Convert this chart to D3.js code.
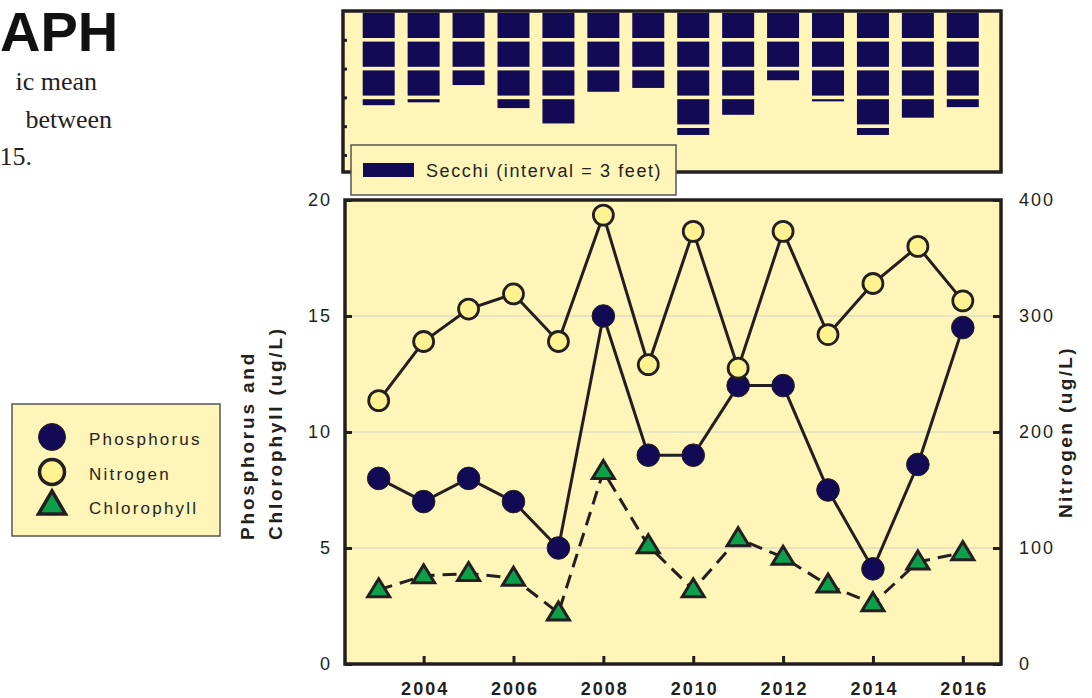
<!DOCTYPE html>
<html>
<head>
<meta charset="utf-8">
<script src="https://cdn.jsdelivr.net/npm/d3@7"></script>
<style>
  body { margin: 0; background: #fff; }
  svg { display: block; }
  text { font-family: "Liberation Sans", Arial, sans-serif; fill: #231f20; }
</style>
</head>
<body>
<svg id="chart" width="1092" height="698"></svg>
<script>
// valeurs
const years = [2003, 2004, 2005, 2006, 2007, 2008, 2009, 2010, 2011, 2012, 2013, 2014, 2015, 2016]
const phosphorus = [8.0, 7.0, 8.0, 7.0, 5.0, 15.0, 9.0, 9.0, 12.0, 12.0, 7.5, 4.1, 8.6, 14.5]
const nitrogen = [227, 278, 306, 319, 278, 387, 258, 373, 255, 373, 284, 328, 360, 313]
const chlorophyll = [3.2, 3.8, 3.9, 3.7, 2.2, 8.3, 5.1, 3.2, 5.4, 4.6, 3.4, 2.6, 4.4, 4.8]
const secchi = [10.0, 9.7, 7.9, 10.3, 11.9, 8.6, 8.2, 13.1, 11.0, 7.4, 9.6, 13.1, 11.3, 10.2]

const leftTicks = [0, 5, 10, 15, 20]
const rightTicks = [0, 100, 200, 300, 400]
const yearTicks = [2004, 2006, 2008, 2010, 2012, 2014, 2016]
const secchiTicks = [3, 6, 9, 12, 15]
const legendItems = ["Phosphorus", "Nitrogen", "Chlorophyll"]

const INK = "#231f20"
const PANEL = "#fff5b9"
const NAVY = "#120a55"
const PALE = "#fff391"
const GREEN = "#0da04b"

const svg = d3.select("#chart")

// texte de la page (coupé à gauche dans l'original)
svg.append("text").attr("x", 0).attr("y", 51)
  .style("font-family", "'Liberation Sans', Arial, sans-serif").style("font-weight", "bold")
  .style("font-size", "56px").style("fill", "#111").text("APH")
const intro = [["ic mean", 97, 90], ["between", 112, 128], ["15.", 32, 165]]
svg.selectAll("text.intro").data(intro).enter().append("text")
  .attr("class", "intro").attr("x", d => d[1]).attr("y", d => d[2])
  .attr("text-anchor", "end")
  .style("font-family", "'Liberation Serif', serif").style("font-size", "26px")
  .text(d => d[0])

// échelles
const x = d3.scaleLinear().domain([2002.25, 2016.85]).range([345, 1001])
const y = d3.scaleLinear().domain([0, 20]).range([664, 200])
const yN = d3.scaleLinear().domain([0, 400]).range([664, 200])
const yS = d3.scaleLinear().domain([0, 15]).range([11, 155])

// ---- panneau Secchi ----
svg.append("rect").attr("x", 343).attr("y", 11).attr("width", 658).attr("height", 161)
  .attr("fill", PANEL).attr("stroke", INK).attr("stroke-width", 3.5)

const gS = svg.append("g").attr("transform", "translate(343,0)")
  .call(d3.axisLeft(yS).tickValues(secchiTicks).tickSize(4).tickFormat(""))
gS.select(".domain").remove()
gS.selectAll(".tick line").attr("stroke", INK).attr("stroke-width", 3).attr("transform", "translate(4,0)")

const blocks = []
secchi.forEach((d, i) => {
  for (let k = 0; k * 3 < d; k++) {
    const top = yS(k * 3) + 1.8
    const bot = Math.max(top + 1.5, yS(Math.min(d, k * 3 + 3)) - 1.8)
    blocks.push({ year: years[i], top, bot })
  }
})
svg.selectAll("rect.secchi").data(blocks).enter().append("rect")
  .attr("class", "secchi")
  .attr("x", d => x(d.year) - 16).attr("width", 32)
  .attr("y", d => d.top).attr("height", d => d.bot - d.top)
  .attr("fill", NAVY)

// légende Secchi
svg.append("rect").attr("x", 351).attr("y", 145).attr("width", 325).attr("height", 50)
  .attr("fill", PANEL).attr("stroke", "#555").attr("stroke-width", 1.5)
svg.append("rect").attr("x", 363).attr("y", 163).attr("width", 51).attr("height", 14).attr("fill", NAVY)
svg.append("text").attr("x", 426).attr("y", 177).style("font-size", "18px")
  .style("letter-spacing", "1.6px").text("Secchi (interval = 3 feet)")

// ---- graphique principal ----
svg.append("rect").attr("x", 345).attr("y", 200).attr("width", 656).attr("height", 464)
  .attr("fill", PANEL)

svg.selectAll("line.grid").data([5, 10, 15]).enter().append("line")
  .attr("class", "grid").attr("x1", 345).attr("x2", 1001)
  .attr("y1", d => y(d)).attr("y2", d => y(d))
  .attr("stroke", "#cfcfc8").attr("stroke-width", 1.2)

const gL = svg.append("g").attr("transform", "translate(345,0)")
  .call(d3.axisLeft(y).tickValues(leftTicks).tickSizeInner(-7).tickSizeOuter(0).tickPadding(15))
const gR = svg.append("g").attr("transform", "translate(1001,0)")
  .call(d3.axisRight(yN).tickValues(rightTicks).tickSizeInner(-8).tickSizeOuter(0).tickPadding(18))
const gB = svg.append("g").attr("transform", "translate(0,664)")
  .call(d3.axisBottom(x).tickValues(yearTicks).tickFormat(d3.format("d"))
    .tickSizeInner(-8).tickSizeOuter(0))
;[gL, gR, gB].forEach(g => {
  g.select(".domain").remove()
  g.selectAll(".tick line").attr("stroke", INK).attr("stroke-width", 3)
  g.selectAll(".tick text").style("font-family", "'Liberation Sans', Arial, sans-serif")
    .style("font-size", "18px").style("fill", INK).style("letter-spacing", "2px")
})
gB.selectAll(".tick text").style("font-weight", "bold").attr("y", 31).attr("dy", "0")
  .attr("dx", "1px")
gL.selectAll(".tick text").attr("dx", "2px")

svg.append("rect").attr("x", 345).attr("y", 200).attr("width", 656).attr("height", 464)
  .attr("fill", "none").attr("stroke", INK).attr("stroke-width", 3.5)

// titres d'axes
const titleL = svg.append("text").attr("transform", "translate(0,540) rotate(-90)")
  .style("font-size", "19px").style("font-weight", "bold").style("letter-spacing", "2.8px")
titleL.append("tspan").attr("x", 0).attr("y", 254).text("Phosphorus and")
titleL.append("tspan").attr("x", 0).attr("y", 282).text("Chlorophyll (ug/L)")
svg.append("text").attr("transform", "translate(1072,432) rotate(-90)")
  .attr("text-anchor", "middle")
  .style("font-size", "19px").style("font-weight", "bold").style("letter-spacing", "2.4px")
  .text("Nitrogen (ug/L)")

// séries
const tri = (w, up, down) => `M0,${-up}L${w / 2},${down}L${-w / 2},${down}Z`
const line = d3.line()

const chl = years.map((yr, i) => [x(yr), y(chlorophyll[i])])
const pho = years.map((yr, i) => [x(yr), y(phosphorus[i])])
const nit = years.map((yr, i) => [x(yr), yN(nitrogen[i])])

svg.append("path").attr("d", line(chl)).attr("fill", "none").attr("stroke", INK)
  .attr("stroke-width", 3).attr("stroke-dasharray", "14,8")
svg.selectAll("path.chl").data(chl).enter().append("path").attr("class", "chl")
  .attr("transform", d => `translate(${d[0]},${d[1]})`)
  .attr("d", tri(22, 11, 7)).attr("fill", GREEN).attr("stroke", INK)
  .attr("stroke-width", 3).attr("stroke-linejoin", "miter")

svg.append("path").attr("d", line(pho)).attr("fill", "none").attr("stroke", INK).attr("stroke-width", 3)
svg.selectAll("circle.pho").data(pho).enter().append("circle").attr("class", "pho")
  .attr("cx", d => d[0]).attr("cy", d => d[1]).attr("r", 11.3)
  .attr("fill", NAVY).attr("stroke", INK).attr("stroke-width", 1)

svg.append("path").attr("d", line(nit)).attr("fill", "none").attr("stroke", INK).attr("stroke-width", 3)
svg.selectAll("circle.nit").data(nit).enter().append("circle").attr("class", "nit")
  .attr("cx", d => d[0]).attr("cy", d => d[1]).attr("r", 10)
  .attr("fill", PALE).attr("stroke", INK).attr("stroke-width", 2.8)

// légende des séries
svg.append("rect").attr("x", 12).attr("y", 404).attr("width", 208).attr("height", 132)
  .attr("fill", PANEL).attr("stroke", "#555").attr("stroke-width", 1.5)
const leg = svg.selectAll("g.leg").data(legendItems).enter().append("g")
  .attr("class", "leg").attr("transform", (d, i) => `translate(52,${[437, 472, 504][i]})`)
leg.filter((d, i) => i === 0).append("circle").attr("r", 13.5).attr("fill", NAVY)
  .attr("stroke", INK).attr("stroke-width", 1)
leg.filter((d, i) => i === 1).append("circle").attr("r", 12.5).attr("fill", PALE)
  .attr("stroke", INK).attr("stroke-width", 3.5)
leg.filter((d, i) => i === 2).append("path").attr("d", tri(27, 13, 10))
  .attr("fill", GREEN).attr("stroke", INK).attr("stroke-width", 3.5)
leg.append("text").attr("x", 37).attr("y", (d, i) => [8, 8, 10][i])
  .style("font-size", "17px").style("letter-spacing", "2.2px").text(d => d)
</script>
</body>
</html>
